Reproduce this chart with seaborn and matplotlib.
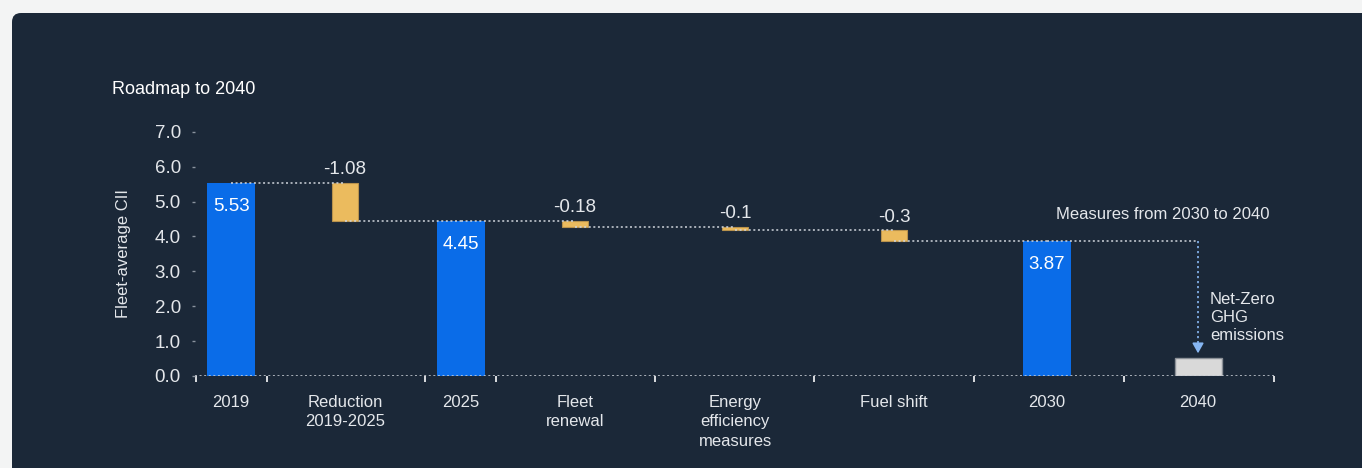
import numpy as np
import pandas as pd
import matplotlib
matplotlib.use("Agg")
import matplotlib.pyplot as plt
from matplotlib.patches import FancyBboxPatch
from matplotlib.ticker import FixedLocator
import seaborn as sns

# ---------------- data ----------------
categories = ["2019", "Reduction\n2019-2025", "2025", "Fleet\nrenewal",
              "Energy\nefficiency\nmeasures", "Fuel shift", "2030", "2040"]
step_kind = ["total", "change", "total", "change", "change", "change", "total", "target"]
step_value = [5.53, -1.08, 4.45, -0.18, -0.1, -0.3, 3.87, 0.52]
y_ticks = [0, 1, 2, 3, 4, 5, 6, 7]
title_text = "Roadmap to 2040"
y_title = "Fleet-average CII"
note_measures = "Measures from 2030 to 2040"
note_target = "Net-Zero\nGHG\nemissions"

# ---------------- layout (not data) ----------------
slot = [0.0, 0.825, 1.665, 2.49, 3.65, 4.80, 5.907, 7.0]
axis_marks = [-0.253, 0.261, 1.404, 1.918, 3.069, 4.220, 5.379, 6.464, 7.55]
x_limits = (-0.261, 7.55)

PANEL = "#1b2838"
OUTER = "#f3f4f4"
TEXT = "#e4e7eb"
DOT = "#d0d5dc"
ARROW = "#86b6f2"
styles = {
    "total": dict(color="#0a6ce8", edgecolor="#0a6ce8", width=0.3475, linewidth=0),
    "change": dict(color="#ebbb5e", edgecolor="#b8924c", width=0.188, linewidth=0.8),
    "target": dict(color="#d9d9d9", edgecolor="#8b9097", width=0.34, linewidth=1.0),
}

# ---------------- derived waterfall geometry ----------------
level = 0.0
starts, bottoms, heights, ends = [], [], [], []
for k, v in zip(step_kind, step_value):
    starts.append(level if k == "change" else v)
    if k == "change":
        level = level + v
        bottoms.append(level)
        heights.append(-v)
    else:
        level = v
        bottoms.append(0.0)
        heights.append(v)
    ends.append(level)

df = pd.DataFrame(dict(slot=slot, category=categories, kind=step_kind,
                       value=step_value, bottom=bottoms, height=heights,
                       start=starts, end=ends))

sns.set_theme(style="dark")
plt.rcParams["font.family"] = ["Liberation Sans", "DejaVu Sans"]

fig = plt.figure(figsize=(13.62, 4.68), dpi=100, facecolor=OUTER)
panel = FancyBboxPatch((0.12, -0.3), 13.8, 4.85,
                       boxstyle="round,pad=0,rounding_size=0.09",
                       transform=fig.dpi_scale_trans, facecolor=PANEL,
                       edgecolor="none", zorder=-10)
fig.patches.append(panel)

ax = fig.add_axes([195 / 1362, 1 - 376 / 468, (1274 - 195) / 1362, (376 - 131.7) / 468])
ax.set_facecolor("none")
ax.set_zorder(1)

for kind, st in styles.items():
    sub = df[df["kind"] == kind].sort_values("slot")
    u = np.unique(sub["slot"])
    native = float(np.min(np.diff(u))) if len(u) > 1 else 1.0
    sns.barplot(data=sub, x="slot", y="height", native_scale=True, orient="x",
                errorbar=None, saturation=1, width=st["width"] / native,
                color=st["color"], edgecolor=st["edgecolor"],
                linewidth=st["linewidth"], bottom=sub["bottom"].to_numpy(),
                ax=ax, zorder=2)

# connectors
dots = (0, (1.3, 1.7))
for i in range(len(df) - 2):
    ax.plot([slot[i], slot[i + 1]], [ends[i], ends[i]], color=DOT, lw=1.1,
            ls=dots, zorder=3)
last = len(df) - 1
ax.plot([slot[last - 1], slot[last]], [ends[last - 1], ends[last - 1]],
        color=DOT, lw=1.1, ls=dots, zorder=3)
tip = step_value[last] + 0.13
ax.plot([slot[last], slot[last]], [ends[last - 1], tip + 0.2], color=ARROW,
        lw=1.2, ls=dots, zorder=3)
ax.annotate("", xy=(slot[last], tip), xytext=(slot[last], tip + 0.25),
            arrowprops=dict(arrowstyle="-|>,head_length=0.5,head_width=0.28",
                            color=ARROW, lw=1.2, shrinkA=0, shrinkB=0),
            zorder=4)

# baseline
ax.axhline(0, color=DOT, lw=1.1, ls=dots, zorder=3)

# value labels
for _, r in df.iterrows():
    if r["kind"] == "total":
        ax.annotate(f"{r['value']:g}", (r["slot"], r["value"]), xytext=(0, -11),
                    textcoords="offset points", ha="center", va="top",
                    color="white", fontsize=13.5, zorder=5)
    elif r["kind"] == "change":
        ax.annotate(f"{r['value']:g}", (r["slot"], r["start"]), xytext=(0, 3.5),
                    textcoords="offset points", ha="center", va="bottom",
                    color=TEXT, fontsize=13.5, zorder=5)

# notes
ax.text(slot[last] + 0.52, 4.64, note_measures, ha="right", va="center",
        color=TEXT, fontsize=12)
ax.text(slot[last] + 0.087, 1.68, note_target, ha="left", va="center",
        color=TEXT, fontsize=12, linespacing=1.25)

# axes styling
ax.set_xlim(*x_limits)
ax.set_ylim(0, 7)
ax.set_xticks(slot)
ax.set_xticklabels(categories, linespacing=1.38)
ax.xaxis.set_minor_locator(FixedLocator(axis_marks))
ax.tick_params(axis="x", which="major", length=0, pad=13.5, labelsize=12,
               labelcolor=TEXT)
ax.tick_params(axis="x", which="minor", length=4.3, width=1.3, color="#e8eaed",
               direction="out", bottom=True)
ax.set_yticks(y_ticks)
ax.set_yticklabels([f"{t:.1f}" for t in y_ticks])
ax.tick_params(axis="y", which="major", length=2.2, width=1, color="#8a939e",
               pad=8, labelsize=13.5, labelcolor=TEXT, left=True)
ax.set_xlabel("")
ax.set_ylabel(y_title, color=TEXT, fontsize=12)
ax.yaxis.set_label_coords(-0.059, 0.5)
for s in ax.spines.values():
    s.set_visible(False)
ax.grid(False)

fig.text(112 / 1362, 1 - 89 / 468, title_text, ha="left", va="center",
         color="white", fontsize=13)

fig.savefig("out.png", dpi=100, facecolor=OUTER)
